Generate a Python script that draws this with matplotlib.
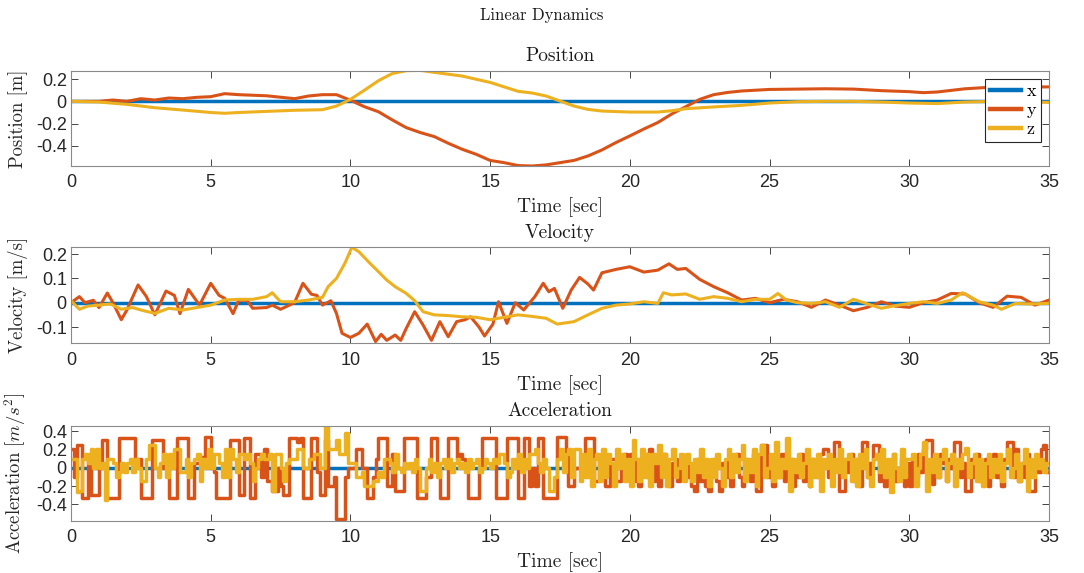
import numpy as np
import matplotlib.pyplot as plt

plt.rcParams['axes.unicode_minus'] = False
plt.rcParams['mathtext.fontset'] = 'cm'

BLUE = '#0072BD'
ORANGE = '#D95319'
YELLOW = '#EDB120'
SERIF = 'cmr10'
SANS = 'Liberation Sans'

# ---- position ----
pos_y_t = [0, 1, 1.5, 2, 2.5, 3, 3.5, 4, 4.5, 5,
           5.5, 6, 7, 8, 8.5, 9, 9.5, 10, 10.5, 11,
           11.5, 12, 12.5, 13, 13.5, 14, 14.5, 15, 15.5, 16,
           16.5, 17, 17.5, 18, 18.5, 19, 19.5, 20, 20.5, 21,
           21.5, 22, 22.5, 23, 23.5, 24, 25, 26, 27, 28,
           29, 30, 30.5, 31, 32, 33, 34, 35]
pos_y = [0, 0, .012, 0, .024, .012, .03, .024, .036, .042,
         .069, .06, .05, .024, .048, .06, .06, .01, -.048, -.093,
         -.167, -.236, -.28, -.316, -.376, -.43, -.475, -.53, -.55, -.576,
         -.58, -.57, -.55, -.53, -.49, -.436, -.37, -.31, -.248, -.19,
         -.113, -.048, .018, .06, .08, .093, .107, .11, .113, .11,
         .096, .087, .078, .084, .113, .128, .128, .13]

pos_z_t = [0, 1, 2, 3, 4, 5, 5.5, 6, 7, 8,
           9, 9.5, 10, 10.5, 11, 11.5, 12, 12.5, 13, 14,
           15, 16, 16.5, 17, 17.5, 18, 18.5, 19, 20, 21,
           21.5, 22, 23, 24, 25, 26, 27, 28, 29, 30,
           31, 32, 33, 35]
pos_z = [0, -.006, -.027, -.057, -.078, -.1, -.107, -.1, -.09, -.08,
         -.075, -.042, .018, .1, .185, .25, .275, .278, .26, .227,
         .17, .09, .075, .048, .003, -.042, -.072, -.087, -.096, -.096,
         -.084, -.066, -.05, -.036, -.015, -.003, 0, 0, -.006, -.015,
         -.02, -.006, 0, -.009]

# ---- velocity ----
vel_y_t = [0, 0.3, 0.5, 0.8, 1, 1.3, 1.5, 1.8, 2, 2.4,
           2.7, 3, 3.4, 3.7, 3.9, 4.2, 4.6, 5, 5.3, 5.5,
           5.8, 6, 6.3, 6.5, 7, 7.2, 7.5, 8, 8.3, 8.6,
           8.8, 9, 9.3, 9.5, 9.7, 10, 10.3, 10.6, 10.9, 11.1,
           11.3, 11.6, 11.8, 12, 12.3, 12.6, 12.9, 13.2, 13.5, 13.8,
           14.1, 14.3, 14.6, 14.8, 15.1, 15.3, 15.6, 15.9, 16.2, 16.6,
           16.9, 17.1, 17.3, 17.6, 17.9, 18.2, 18.5, 18.7, 19, 19.5,
           20, 20.5, 21, 21.4, 21.7, 22, 22.5, 23, 23.5, 24,
           24.5, 25, 25.5, 26, 26.5, 27, 27.5, 28, 28.5, 29,
           29.5, 30, 30.5, 31, 31.5, 32, 32.5, 33, 33.5, 34,
           34.5, 35]
vel_y = [0, .025, 0, .01, -.02, .04, 0, -.07, -.03, .073,
         .025, -.05, .048, .03, -.045, .055, -.01, .08, .03, .018,
         -.045, .01, .01, -.023, -.02, -.01, -.027, 0, .08, .035,
         .03, -.01, .008, -.044, -.126, -.143, -.126, -.088, -.16, -.13,
         -.155, -.133, -.155, -.105, -.037, -.092, -.155, -.078, -.14, -.078,
         -.07, -.058, -.1, -.137, -.088, .004, -.085, 0, -.03, .025,
         .08, .045, .059, -.023, .052, .104, .077, .052, .123, .137,
         .148, .126, .134, .16, .137, .141, .096, .066, .041, .011,
         .018, 0, .014, .004, -.019, .011, -.01, -.033, -.019, .004,
         -.014, -.019, 0, .011, .038, .036, 0, -.019, .027, .022,
         -.01, .011]

vel_z_t = [0, 0.3, 0.6, 1, 1.4, 1.8, 2.2, 2.6, 3, 3.5,
           4, 4.5, 5, 5.5, 6, 6.5, 7, 7.2, 7.5, 8,
           8.5, 9, 9.2, 9.5, 9.8, 10.05, 10.3, 10.7, 11, 11.3,
           11.6, 12, 12.3, 12.6, 13, 13.5, 14, 14.5, 15, 15.5,
           16, 16.4, 17, 17.4, 18, 18.5, 19, 19.5, 20, 20.5,
           21, 21.2, 21.5, 22, 22.5, 23, 23.5, 24, 24.5, 25,
           25.3, 25.6, 26, 26.5, 27, 27.5, 28, 28.5, 29, 29.5,
           30, 30.5, 31, 31.5, 31.9, 32.5, 33, 33.3, 33.8, 34.3,
           35]
vel_z = [.008, -.027, -.014, -.01, -.005, -.027, -.02, -.033, -.044, -.023,
         -.03, -.02, -.01, .011, .014, .014, .025, .041, .004, .004,
         .011, .022, .066, .1, .162, .228, .21, .162, .128, .093,
         .066, .038, .008, -.037, -.05, -.053, -.058, -.06, -.07, -.06,
         -.05, -.055, -.064, -.088, -.078, -.05, -.023, -.01, -.005, .004,
         -.003, .041, .032, .036, .014, .025, .018, .004, .014, .014,
         .038, .011, 0, -.003, .004, -.019, .014, -.005, -.023, -.012,
         -.003, .004, -.003, .011, .041, .004, -.01, -.027, -.003, -.005,
         -.003]

# ---- acceleration, one row per second, 0.1 s samples ----
acc_y = [
    0.2, -0.1, 0.25, 0.25, -0.33, -0.33, 0.12, -0.3, -0.3, -0.3,
    0.0, 0.3, 0.3, -0.33, -0.33, -0.33, -0.33, 0.32, 0.32, 0.32,
    0.32, 0.32, 0.32, 0.1, 0.1, -0.33, -0.33, -0.33, -0.33, 0.3,
    0.3, 0.3, 0.3, 0.0, 0.0, -0.33, -0.33, -0.33, 0.32, 0.32,
    0.32, 0.32, -0.33, -0.33, 0.05, 0.05, 0.12, 0.12, 0.33, 0.33,
    0.0, -0.05, -0.33, -0.33, -0.33, -0.33, -0.33, 0.3, 0.3, 0.3,
    -0.3, -0.3, 0.32, 0.32, -0.33, -0.33, 0.15, 0.15, -0.1, 0.2,
    -0.15, -0.15, -0.25, -0.25, 0.0, -0.2, -0.3, -0.3, 0.32, 0.32,
    0.32, 0.28, 0.32, -0.33, -0.33, -0.33, 0.32, 0.32, -0.05, -0.3,
    -0.3, 0.3, -0.2, -0.2, -0.1, -0.56, -0.56, -0.56, -0.1, 0.0,
    0.0, 0.0, 0.2, 0.2, 0.0, 0.0, -0.33, -0.33, -0.1, 0.1,
    0.32, 0.32, 0.32, -0.2, -0.2, 0.15, -0.25, -0.25, -0.25, 0.32,
    0.32, 0.32, 0.32, 0.32, -0.33, -0.33, -0.33, -0.1, -0.1, 0.32,
    0.32, 0.0, -0.33, -0.33, -0.33, 0.32, 0.32, 0.32, 0.1, 0.15,
    0.1, 0.0, -0.33, -0.33, -0.33, -0.33, 0.0, 0.32, 0.32, 0.32,
    0.32, 0.32, -0.33, -0.33, -0.33, -0.33, 0.32, 0.32, 0.32, 0.32,
    -0.33, -0.33, 0.32, 0.32, -0.2, 0.0, -0.2, 0.32, 0.32, -0.33,
    -0.33, -0.33, -0.33, -0.33, 0.33, 0.33, 0.33, 0.15, -0.2, -0.2,
    0.0, 0.0, 0.0, 0.1, 0.32, 0.32, 0.32, -0.15, -0.15, 0.1,
    0.1, -0.2, -0.2, 0.1, 0.1, -0.15, -0.15, 0.05, 0.15, -0.1,
    0.15, -0.15, 0.1, -0.2, 0.05, 0.15, -0.1, 0.2, -0.15, 0.1,
    -0.2, 0.1, 0.15, -0.1, -0.2, 0.05, 0.1, -0.15, 0.0, 0.1,
    -0.1, 0.05, -0.2, -0.25, 0.1, -0.15, 0.05, -0.2, -0.25, 0.0,
    0.1, -0.15, -0.25, 0.05, -0.1, 0.1, -0.2, 0.05, 0.15, -0.1,
    -0.2, 0.1, 0.0, -0.15, 0.15, -0.25, -0.25, 0.25, 0.25, -0.1,
    0.05, -0.2, 0.1, -0.1, 0.15, -0.15, 0.0, 0.1, -0.2, 0.05,
    -0.1, 0.15, -0.15, 0.05, -0.2, 0.1, 0.0, -0.1, 0.15, 0.2,
    0.2, -0.1, 0.05, 0.28, 0.28, -0.25, -0.25, 0.1, -0.05, 0.15,
    -0.15, 0.1, -0.2, 0.28, 0.28, -0.1, 0.05, 0.25, 0.25, -0.15,
    0.1, -0.2, 0.05, -0.1, 0.15, -0.15, 0.0, 0.1, -0.2, 0.05,
    -0.2, 0.1, -0.1, 0.15, -0.05, 0.2, 0.3, 0.3, -0.18, 0.1,
    -0.1, 0.15, 0.05, -0.15, 0.1, 0.0, 0.28, 0.28, -0.1, 0.05,
    -0.25, -0.25, 0.1, -0.1, 0.15, -0.15, 0.05, 0.1, -0.2, 0.0,
    0.15, -0.1, 0.05, -0.2, 0.1, 0.28, 0.28, -0.1, 0.2, -0.15,
    0.05, -0.1, 0.15, -0.25, -0.25, 0.1, -0.05, 0.2, 0.25, -0.05,
]
acc_z = [
    0.1, 0.1, -0.27, -0.25, 0.1, 0.15, 0.05, 0.2, 0.0, 0.2,
    0.0, 0.05, -0.35, 0.1, 0.1, 0.05, -0.1, -0.05, 0.05, -0.05,
    0.05, 0.1, -0.05, 0.1, 0.0, -0.15, -0.15, 0.1, 0.25, 0.25,
    0.0, -0.1, 0.05, 0.15, -0.1, 0.15, 0.0, 0.2, 0.2, -0.05,
    -0.05, 0.1, -0.1, 0.05, 0.1, 0.15, -0.15, 0.1, 0.0, 0.2,
    0.0, 0.15, 0.15, 0.05, -0.1, 0.2, -0.1, 0.2, 0.1, -0.05,
    0.15, 0.15, 0.1, 0.15, 0.05, -0.15, 0.0, 0.1, 0.15, 0.1,
    0.1, 0.15, -0.25, 0.15, 0.15, 0.0, -0.15, 0.05, 0.1, 0.1,
    0.1, 0.2, 0.2, 0.0, 0.0, 0.1, 0.1, 0.15, 0.15, 0.0,
    0.0, 0.45, 0.2, 0.2, 0.2, 0.3, 0.15, 0.15, 0.38, 0.05,
    0.05, 0.05, -0.1, -0.1, -0.05, -0.2, -0.2, -0.2, -0.15, -0.15,
    -0.05, -0.1, 0.1, 0.1, 0.05, -0.05, 0.15, 0.0, -0.05, 0.05,
    0.0, 0.05, -0.05, 0.1, 0.0, -0.25, -0.25, 0.0, 0.1, -0.05,
    0.05, -0.1, 0.05, 0.1, 0.0, 0.1, -0.05, 0.05, 0.1, 0.0,
    0.05, -0.05, 0.1, 0.0, 0.05, 0.1, -0.05, 0.0, 0.1, 0.05,
    0.0, 0.1, 0.05, 0.15, 0.15, 0.05, -0.1, -0.05, 0.1, 0.0,
    0.15, -0.05, 0.1, 0.0, 0.15, 0.15, 0.2, 0.05, -0.05, 0.1,
    0.0, -0.25, -0.25, -0.1, 0.1, 0.2, -0.05, 0.15, 0.2, -0.1,
    0.2, 0.2, -0.15, 0.15, -0.1, 0.2, -0.2, 0.1, 0.15, -0.15,
    0.2, -0.1, 0.15, 0.05, -0.2, 0.2, 0.0, 0.15, -0.15, 0.1,
    -0.2, 0.3, 0.1, -0.15, 0.2, -0.1, 0.15, -0.2, 0.15, 0.05,
    0.25, -0.1, 0.15, -0.2, 0.1, 0.2, -0.1, 0.0, 0.15, -0.15,
    0.15, 0.05, -0.15, 0.1, -0.05, 0.2, -0.1, 0.1, -0.2, 0.1,
    -0.1, 0.15, 0.0, -0.2, 0.1, 0.2, -0.1, 0.15, -0.05, 0.1,
    0.25, -0.15, 0.1, -0.05, 0.2, -0.2, 0.15, 0.25, -0.1, 0.0,
    0.15, -0.15, 0.28, -0.1, 0.1, 0.0, 0.32, -0.25, 0.1, -0.05,
    0.15, -0.1, 0.05, 0.2, -0.2, 0.1, -0.1, 0.15, -0.25, 0.1,
    0.0, 0.15, -0.2, 0.1, -0.05, 0.2, -0.1, 0.1, 0.15, -0.15,
    0.1, -0.2, 0.15, 0.0, 0.2, -0.1, -0.2, 0.1, 0.15, -0.05,
    0.2, -0.1, 0.1, -0.27, 0.15, 0.0, -0.15, 0.2, -0.1, 0.1,
    0.1, 0.15, -0.2, 0.0, 0.15, 0.28, -0.25, 0.1, -0.05, 0.15,
    -0.1, 0.1, 0.2, -0.15, 0.05, 0.15, -0.2, 0.1, 0.0, 0.15,
    0.22, -0.1, 0.05, 0.15, -0.15, 0.1, -0.2, 0.05, 0.15, -0.1,
    0.1, -0.05, 0.15, -0.15, 0.05, 0.2, -0.1, 0.0, 0.15, -0.15,
    0.05, 0.2, -0.25, 0.1, -0.1, 0.15, 0.0, 0.1, -0.05, 0.05,
]

x_ticks = [0, 5, 10, 15, 20, 25, 30, 35]
pos_ticks = [-0.4, -0.2, 0, 0.2]
vel_ticks = [-0.1, 0, 0.1, 0.2]
acc_ticks = [-0.4, -0.2, 0, 0.2, 0.4]


def style_axes(ax, yticks, ylim, title, ylabel):
    ax.set_xlim(0, 35)
    ax.set_ylim(*ylim)
    ax.set_xticks(x_ticks)
    ax.set_xticklabels([f'{v:g}' for v in x_ticks], family=SANS)
    ax.set_yticks(yticks)
    ax.set_yticklabels([f'{v:g}' for v in yticks], family=SANS)
    ax.tick_params(direction='in', top=True, right=True, length=5, width=0.6,
                   color='#262626', labelcolor='#262626', labelsize=13)
    ax.tick_params(axis='x', pad=6)
    ax.tick_params(axis='y', pad=3)
    for s in ax.spines.values():
        s.set_color('#8a8a8a')
        s.set_linewidth(0.8)
    ax.set_title(title, family=SERIF, fontsize=14, pad=7, color='#1a1a1a')
    ax.set_xlabel('Time [sec]', family=SERIF, fontsize=14, color='#262626')
    ax.set_ylabel(ylabel, family=SERIF, fontsize=13.5, color='#262626')
    ax.xaxis.set_label_coords(0.5, -0.33)
    ax.yaxis.set_label_coords(-0.044, 0.5)


fig = plt.figure(figsize=(10.84, 5.73), dpi=100)
fig.text(0.5, 1 - 15 / 573, 'Linear Dynamics', ha='center', va='center',
         family=SERIF, fontsize=12, color='#1a1a1a')

ax1 = fig.add_axes([0.0655, 0.7103, 0.9022, 0.1663])
ax2 = fig.add_axes([0.0655, 0.4009, 0.9022, 0.1675])
ax3 = fig.add_axes([0.0655, 0.0913, 0.9022, 0.1658])

lw = 2.2
ax1.plot([0, 35], [0, 0], color=BLUE, lw=2.5, label='x')
ax1.plot(pos_y_t, pos_y, color=ORANGE, lw=lw, label='y')
ax1.plot(pos_z_t, pos_z, color=YELLOW, lw=lw, label='z')
style_axes(ax1, pos_ticks, (-0.58, 0.275), 'Position', 'Position [m]')
leg = ax1.legend(loc='upper right', prop={'family': SERIF, 'size': 13},
                 fancybox=False, framealpha=1, edgecolor='#262626',
                 borderaxespad=0.45, handlelength=1.75, handletextpad=0.3,
                 labelspacing=0.2, borderpad=0.25)
leg.get_frame().set_linewidth(0.8)
for h in leg.get_lines():
    h.set_linewidth(3.2)

ax2.plot([0, 35], [0, 0], color=BLUE, lw=2.5)
ax2.plot(vel_y_t, vel_y, color=ORANGE, lw=lw)
ax2.plot(vel_z_t, vel_z, color=YELLOW, lw=lw)
style_axes(ax2, vel_ticks, (-0.167, 0.228), 'Velocity', 'Velocity [m/s]')

acc_t = np.round(np.arange(len(acc_y) + 1) * 0.1, 1)
ax3.plot([0, 35], [0, 0], color=BLUE, lw=2.5)
ax3.plot(acc_t, acc_y + acc_y[-1:], color=ORANGE, lw=2.5, drawstyle='steps-post')
ax3.plot(acc_t, acc_z + acc_z[-1:], color=YELLOW, lw=2.5, drawstyle='steps-post')
style_axes(ax3, acc_ticks, (-0.578, 0.458), 'Acceleration',
           r'Acceleration $[m/s^2]$')

fig.savefig('out.png', dpi=100)
